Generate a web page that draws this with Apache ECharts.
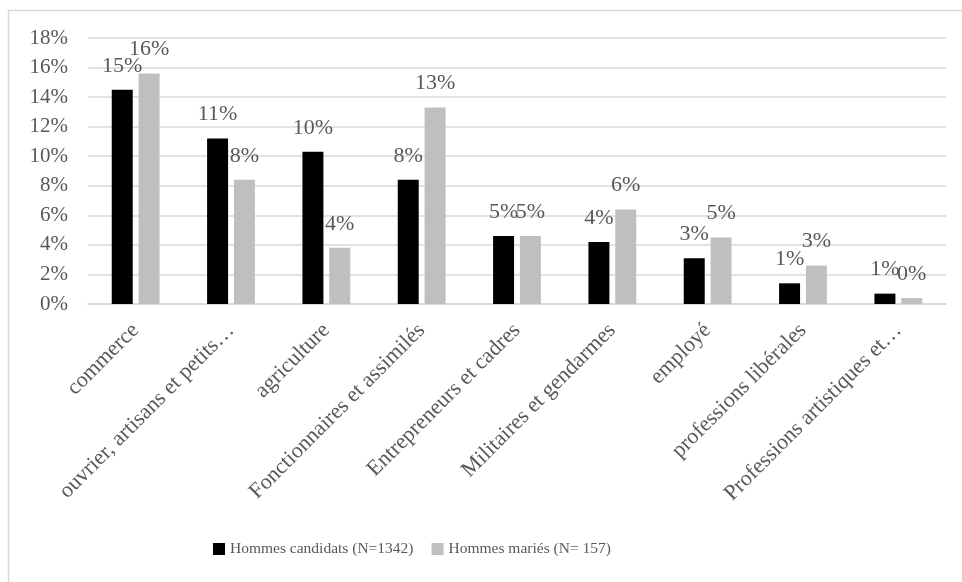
<!DOCTYPE html>
<html>
<head>
<meta charset="utf-8">
<script src="https://cdn.jsdelivr.net/npm/echarts@6/dist/echarts.min.js"></script>
<style>
  html, body { margin: 0; padding: 0; background: #fff; }
  #main { width: 962px; height: 582px; }
</style>
</head>
<body>
<div id="main"></div>
<script>
  // categories and values (percent)
  var categories = [
    'commerce',
    'ouvrier, artisans et petits…',
    'agriculture',
    'Fonctionnaires et assimilés',
    'Entrepreneurs et cadres',
    'Militaires et gendarmes',
    'employé',
    'professions libérales',
    'Professions artistiques et…'
  ]
  var candidats = [14.5, 11.2, 10.3, 8.4, 4.6, 4.2, 3.1, 1.4, 0.7]
  var maries = [15.6, 8.4, 3.8, 13.3, 4.6, 6.4, 4.5, 2.6, 0.4]
  var yTicks = [0, 2, 4, 6, 8, 10, 12, 14, 16, 18]

  var font = '"Liberation Serif", "DejaVu Serif", serif'
  var textColor = '#595959'

  var labelStyle = {
    show: true,
    position: 'top',
    distance: 13,
    color: textColor,
    fontFamily: font,
    fontSize: 22,
    formatter: function (p) { return Math.round(p.value) + '%' }
  }

  var myChart = echarts.init(document.getElementById('main'))
  myChart.setOption({
    animation: false,
    textStyle: { fontFamily: font },
    graphic: [{
      type: 'rect',
      shape: { x: 8.5, y: 10.5, width: 980, height: 600 },
      style: { fill: 'none', stroke: '#d9d9d9', lineWidth: 1.5 },
      silent: true,
      z: -1
    }],
    grid: { left: 88, right: 16, top: 38, height: 266, containLabel: false },
    legend: {
      top: 536,
      left: 208,
      itemWidth: 12,
      itemHeight: 12,
      itemGap: 18,
      icon: 'rect',
      textStyle: { color: textColor, fontFamily: font, fontSize: 15.5 },
      data: ['Hommes candidats (N=1342)', 'Hommes mariés (N= 157)']
    },
    xAxis: {
      type: 'category',
      data: categories,
      axisLine: { lineStyle: { color: '#d9d9d9', width: 1.5 } },
      axisTick: { show: false },
      axisLabel: {
        interval: 0,
        rotate: 45,
        margin: 23,
        color: textColor,
        fontFamily: font,
        fontSize: 22
      }
    },
    yAxis: {
      type: 'value',
      min: yTicks[0],
      max: yTicks[yTicks.length - 1],
      interval: 2,
      axisLine: { show: false },
      axisTick: { show: false },
      splitLine: { lineStyle: { color: '#d9d9d9', width: 1.5 } },
      axisLabel: {
        color: textColor,
        fontFamily: font,
        fontSize: 21,
        margin: 20,
        formatter: '{value}%'
      }
    },
    series: [
      {
        name: 'Hommes candidats (N=1342)',
        type: 'bar',
        data: candidats,
        barWidth: '22%',
        barGap: '28%',
        itemStyle: { color: '#000000' },
        label: labelStyle
      },
      {
        name: 'Hommes mariés (N= 157)',
        type: 'bar',
        data: maries,
        barWidth: '22%',
        itemStyle: { color: '#bfbfbf' },
        label: labelStyle
      }
    ]
  })
</script>
</body>
</html>
